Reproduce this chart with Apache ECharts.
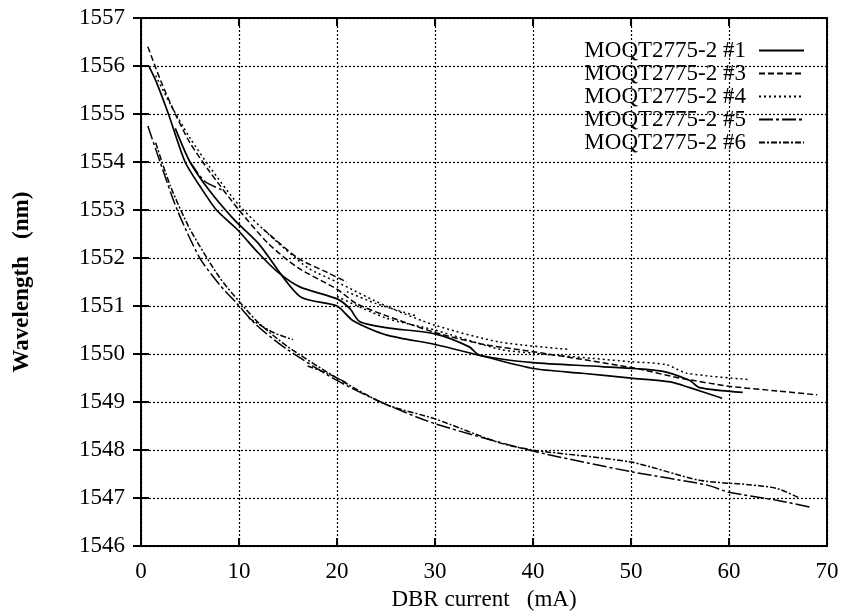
<!DOCTYPE html>
<html>
<head>
<meta charset="utf-8">
<script src="https://cdn.jsdelivr.net/npm/echarts@6/dist/echarts.min.js"></script>
<style>
  html, body { margin: 0; padding: 0; background: #fff; }
  #chart { width: 844px; height: 616px; }
</style>
</head>
<body>
<div id="chart"></div>
<script>
// axis ticks
const xTicks = [0, 10, 20, 30, 40, 50, 60, 70];
const yTicks = [1546, 1547, 1548, 1549, 1550, 1551, 1552, 1553, 1554, 1555, 1556, 1557];

// [current mA, wavelength nm]
const dev1a = [[0.8, 1556.0], [1.5, 1555.7], [2.8, 1555.0], [4.5, 1554.0], [6, 1553.5], [7.7, 1553.0],
  [9.8, 1552.6], [12, 1552.1], [14, 1551.7], [16.2, 1551.4], [20, 1551.15], [21.3, 1550.95],
  [22.3, 1550.68], [25, 1550.55], [30, 1550.42], [33.5, 1550.15], [34.5, 1549.98], [40, 1549.82],
  [47, 1549.74], [53, 1549.65], [56, 1549.45], [57, 1549.3], [61.4, 1549.2]];
const dev1b = [[3.5, 1554.7], [5, 1554.0], [7, 1553.4], [9.5, 1552.8], [12, 1552.3], [16.2, 1551.2],
  [20, 1551.0], [21.6, 1550.7], [25, 1550.4], [30, 1550.2], [35, 1549.95], [40, 1549.7],
  [45, 1549.6], [50, 1549.5], [54, 1549.42], [56, 1549.3], [59.3, 1549.08]];
const dev3a = [[0.7, 1556.4], [2, 1555.7], [3.5, 1555.0], [5, 1554.4], [7, 1553.8], [10, 1553.0],
  [13, 1552.3], [16, 1551.8], [20, 1551.35], [22, 1551.05], [25, 1550.8], [30, 1550.45],
  [35, 1550.2], [40, 1550.05], [50, 1549.72], [55, 1549.5], [60, 1549.33], [65, 1549.23], [69, 1549.15]];
const dev3b = [[12.5, 1552.6], [16, 1552.0], [19, 1551.7], [21, 1551.5]];
const dev4a = [[1.5, 1555.8], [3, 1555.2], [5, 1554.5], [7, 1553.9], [10, 1553.1], [13, 1552.5],
  [17, 1551.8], [20, 1551.5], [25, 1551.0], [30, 1550.6], [36.6, 1550.25], [43.5, 1550.1]];
const dev4b = [[20, 1551.2], [25, 1550.75], [30, 1550.5], [36.6, 1550.1], [40, 1550.02], [50, 1549.84],
  [53.6, 1549.78], [55.7, 1549.6], [62, 1549.47]];
const dev4c = [[21, 1551.3], [24, 1551.05], [28, 1550.8]];
const dev5a = [[0.7, 1554.75], [1.95, 1554.0], [3.7, 1553.0], [6, 1552.0], [8, 1551.45], [9.8, 1551.05],
  [11.8, 1550.6], [14.9, 1550.1], [20, 1549.45], [24.7, 1548.98], [30, 1548.55], [40, 1547.98],
  [50, 1547.55], [57.8, 1547.27], [60, 1547.12], [65, 1546.95], [68.5, 1546.8]];
const dev5b = [[5, 1554.0], [6.5, 1553.6], [8.5, 1553.4]];
const dev6a = [[1.5, 1554.4], [3, 1553.5], [5, 1552.6], [8, 1551.6], [10, 1551.1], [12, 1550.65],
  [15, 1550.15], [20, 1549.5], [25, 1548.95], [30, 1548.65], [36.6, 1548.15], [40, 1548.0],
  [50, 1547.75], [57, 1547.37], [62, 1547.28], [64.9, 1547.2], [67.2, 1547.0]];
const dev6b = [[11, 1550.75], [13.5, 1550.45], [15.5, 1550.3]];
const dev6c = [[17, 1549.75], [19, 1549.6], [21, 1549.4]];

const names = ["MOQT2775-2 #1", "MOQT2775-2 #3", "MOQT2775-2 #4", "MOQT2775-2 #5", "MOQT2775-2 #6"];
const dashes = ["solid", [6, 3], [2, 3], [14, 3, 3, 3], [6, 2, 2, 2]];
const segments = [
  [0, dev1a], [0, dev1b],
  [1, dev3a], [1, dev3b],
  [2, dev4a], [2, dev4b], [2, dev4c],
  [3, dev5a], [3, dev5b],
  [4, dev6a], [4, dev6b], [4, dev6c],
];

const font = "'Liberation Serif', 'DejaVu Serif', serif";

const series = segments.map(([i, data]) => ({
  name: names[i],
  type: "line",
  data: data,
  symbol: "none",
  smooth: 0.25,
  silent: true,
  animation: false,
  lineStyle: { color: "#000", width: i === 0 ? 1.7 : 1.5, type: dashes[i] },
  itemStyle: { color: "#000" },
}));

const chart = echarts.init(document.getElementById("chart"), null, { renderer: "canvas" });

const baseAxis = {
  axisLine: { show: true, lineStyle: { color: "#000", width: 2 } },
  axisTick: { show: true, inside: true, length: 8, lineStyle: { color: "#000", width: 2 } },
};

chart.setOption({
  backgroundColor: "#fff",
  animation: false,
  grid: { left: 141, right: 17, top: 18, bottom: 65, show: true, borderColor: "#000", borderWidth: 2 },
  legend: {
    data: names,
    orient: "vertical",
    right: 34,
    top: 34,
    align: "right",
    itemWidth: 45,
    itemHeight: 14,
    itemGap: 0,
    itemStyle: { opacity: 0 },
    textStyle: { fontFamily: font, fontSize: 23, color: "#000", padding: [0, 8, 0, 0] },
  },
  xAxis: [
    {
      ...baseAxis,
      type: "value",
      min: xTicks[0],
      max: xTicks[xTicks.length - 1],
      interval: 10,
      name: "DBR current   (mA)",
      nameLocation: "middle",
      nameGap: 38,
      nameTextStyle: { fontFamily: font, fontSize: 23, color: "#000" },
      axisLabel: { fontFamily: font, fontSize: 23, color: "#000", margin: 14 },
      splitLine: { show: true, lineStyle: { color: "#000", width: 1.2, type: [2, 2] } },
    },
    {
      ...baseAxis,
      type: "value",
      position: "top",
      min: xTicks[0],
      max: xTicks[xTicks.length - 1],
      interval: 10,
      axisLabel: { show: false },
      splitLine: { show: false },
    },
  ],
  yAxis: [
    {
      ...baseAxis,
      type: "value",
      min: yTicks[0],
      max: yTicks[yTicks.length - 1],
      interval: 1,
      name: "Wavelength   (nm)",
      nameLocation: "middle",
      nameGap: 107,
      nameTextStyle: { fontFamily: font, fontSize: 23, fontWeight: "bold", color: "#000" },
      axisLabel: { fontFamily: font, fontSize: 23, color: "#000", margin: 16, formatter: (v) => String(v) },
      splitLine: { show: true, lineStyle: { color: "#000", width: 1.2, type: [2, 2] } },
    },
    {
      ...baseAxis,
      type: "value",
      position: "right",
      min: yTicks[0],
      max: yTicks[yTicks.length - 1],
      interval: 1,
      axisLabel: { show: false },
      splitLine: { show: false },
    },
  ],
  series: series,
});
</script>
</body>
</html>
